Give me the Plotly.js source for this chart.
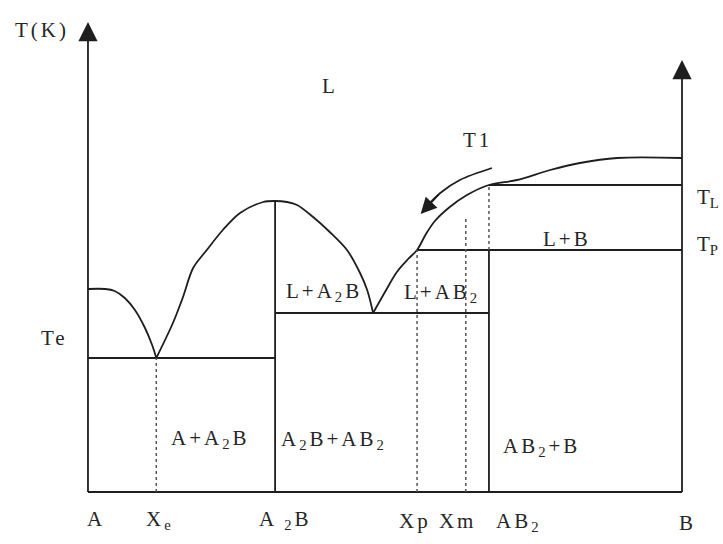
<!DOCTYPE html>
<html>
<head>
<meta charset="utf-8">
<script src="https://cdn.plot.ly/plotly-3.0.1.min.js"></script>
<style>
  html, body { margin: 0; padding: 0; background: #ffffff; }
  #chart { width: 723px; height: 544px; }
</style>
</head>
<body>
<div id="chart"></div>
<script>
// Binary A–B phase diagram with two intermediate compounds (A2B congruent, AB2 peritectic).
// Composition: % B (A = 0, B = 100). Temperature: arbitrary units above the base line.

// Key compositions
const compXe  = 11.5;   // eutectic A + A2B
const compA2B = 31.5;
const compE2  = 48.0;   // eutectic A2B + AB2
const compXp  = 55.4;   // peritectic liquid
const compXm  = 63.6;
const compAB2 = 67.5;

// Key temperatures
const tempTe   = 134;   // eutectic A + A2B
const tempE2   = 179;   // eutectic A2B + AB2
const tempTP   = 242;   // peritectic
const tempTL   = 307;
const tempA2B  = 290;   // congruent melting of A2B
const tempXm   = 274;   // liquidus temperature at Xm
const tempTopA = 451;   // top of the T axis
const tempTopB = 418;   // top of the right axis

// Liquidus on the A side
const liqA_x = [0, 2.9, 4.5, 6.2, 7.9, 9.6, 10.8, 11.5];
const liqA_T = [203, 203, 201, 194, 182, 164, 147, 134];

// Liquidus dome of A2B
const domeA2B_x = [11.5, 14.3, 16.0, 17.7, 20.0, 22.7, 25.6, 29.5, 31.5, 33.5, 35.2, 37.9, 40.7, 43.6, 45.8, 47.0, 48.0];
const domeA2B_T = [134, 169, 195, 224, 242, 262, 279, 290, 291, 290, 287, 275, 260, 242, 219, 202, 179];

// Liquidus from the second eutectic through the peritectic point up to B
const liqB_x = [48.0, 50.0, 52.0, 53.9, 55.4, 56.9, 58.4, 60.9, 63.8, 67.5, 72.2, 77.8, 82.8, 89.1, 100];
const liqB_T = [179, 200, 220, 233, 242, 258, 271, 285, 297, 307, 312, 322, 329, 334, 334];

// Cooling path indicated by the T1 arrow
const coolT1_x = [68.0, 62.6, 59.3, 56.3];
const coolT1_T = [324, 312, 299, 281];

// Straight phase boundaries: [x0, x1], [T0, T1]
const solidLines = [
  [[0, 100], [0, 0]],                         // base line
  [[0, 0], [0, tempTopA]],                    // T axis (pure A)
  [[100, 100], [0, tempTopB]],                // pure B
  [[0, compA2B], [tempTe, tempTe]],           // eutectic Te
  [[compA2B, compA2B], [0, tempA2B]],         // A2B
  [[compA2B, compAB2], [tempE2, tempE2]],     // second eutectic
  [[compAB2, compAB2], [0, tempTP]],          // AB2
  [[compXp, 100], [tempTP, tempTP]],          // peritectic TP
  [[compAB2, 100], [tempTL, tempTL]]          // TL
];
const dottedLines = [
  [[compXe, compXe], [0, tempTe]],
  [[compXp, compXp], [0, tempTP]],
  [[compXm, compXm], [0, tempXm]],
  [[compAB2, compAB2], [tempTP, tempTL]]
];

// Text labels
const labelText = ['T(K)', 'L', 'T1', 'L+B', 'T<sub>L</sub>', 'T<sub>P</sub>',
  'L+A<sub>2</sub>B', 'L+AB<sub>2</sub>', 'Te',
  'A+A<sub>2</sub>B', 'A<sub>2</sub>B+AB<sub>2</sub>', 'AB<sub>2</sub>+B',
  'A', 'X<sub>e</sub>', 'A <sub>2</sub>B', 'Xp Xm', 'AB<sub>2</sub>', 'B'];

const ink = '#1e1e1e';
const font = { family: 'Liberation Serif, Times New Roman, serif', size: 21, color: '#262626' };

const traces = [];
function curve(x, y) {
  traces.push({ x, y, type: 'scatter', mode: 'lines', hoverinfo: 'skip',
    line: { color: ink, width: 1.8, shape: 'spline', smoothing: 0.9 } });
}
curve(liqA_x, liqA_T);
curve(domeA2B_x, domeA2B_T);
curve(liqB_x, liqB_T);
curve(coolT1_x, coolT1_T);
solidLines.forEach(s => traces.push({ x: s[0], y: s[1], type: 'scatter', mode: 'lines', hoverinfo: 'skip',
  line: { color: ink, width: 1.8 } }));
dottedLines.forEach(s => traces.push({ x: s[0], y: s[1], type: 'scatter', mode: 'lines', hoverinfo: 'skip',
  line: { color: '#555', width: 1.5, dash: 'dot' } }));

// label placement: [x, T, anchor, letter spacing]
const labelPos = [
  [-7.7, 462, 'center', 3], [40.7, 406, 'center', 3], [65.5, 352, 'center', 3], [80.6, 253, 'center', 3],
  [102.2, 294, 'left', 0], [102.2, 247, 'left', 0],
  [39.7, 200, 'center', 3], [59.6, 199, 'center', 3], [-5.7, 154, 'center', 3],
  [20.7, 53, 'center', 3], [41.4, 52, 'center', 3], [76.3, 45, 'center', 3],
  [1.3, -27, 'center', 3], [12.1, -28, 'center', 3], [33.2, -28, 'center', 3], [58.8, -29, 'center', 3],
  [72.6, -30, 'center', 3], [101.0, -31, 'center', 3]
];
const annotations = labelText.map((t, i) => ({
  x: labelPos[i][0], y: labelPos[i][1],
  text: '<span style="letter-spacing:' + labelPos[i][3] + 'px">' + t + '</span>', showarrow: false,
  xanchor: labelPos[i][2], yanchor: 'middle', font: font
}));

// Arrowheads: axes and the cooling path
function arrowHead(x, y, ax, ay, size) {
  annotations.push({ x, y, ax, ay, axref: 'x', ayref: 'y', text: '', showarrow: true,
    arrowhead: 2, arrowsize: size, arrowwidth: 1.6, arrowcolor: ink, standoff: 0 });
}
arrowHead(0, 470, 0, tempTopA - 2, 2.4);
arrowHead(100, 432, 100, tempTopB - 2, 2.4);
const nT = coolT1_x.length;
arrowHead(coolT1_x[nT - 1] - 0.3, coolT1_T[nT - 1] - 3, coolT1_x[nT - 2], coolT1_T[nT - 2], 2);

const layout = {
  width: 723, height: 544,
  margin: { l: 0, r: 0, t: 0, b: 0 },
  paper_bgcolor: '#ffffff', plot_bgcolor: '#ffffff',
  showlegend: false,
  xaxis: { range: [-14.81, 106.9], visible: false, fixedrange: true },
  yaxis: { range: [-52, 492], visible: false, fixedrange: true },
  annotations: annotations
};

Plotly.newPlot('chart', traces, layout, { staticPlot: true, displayModeBar: false });
</script>
</body>
</html>
